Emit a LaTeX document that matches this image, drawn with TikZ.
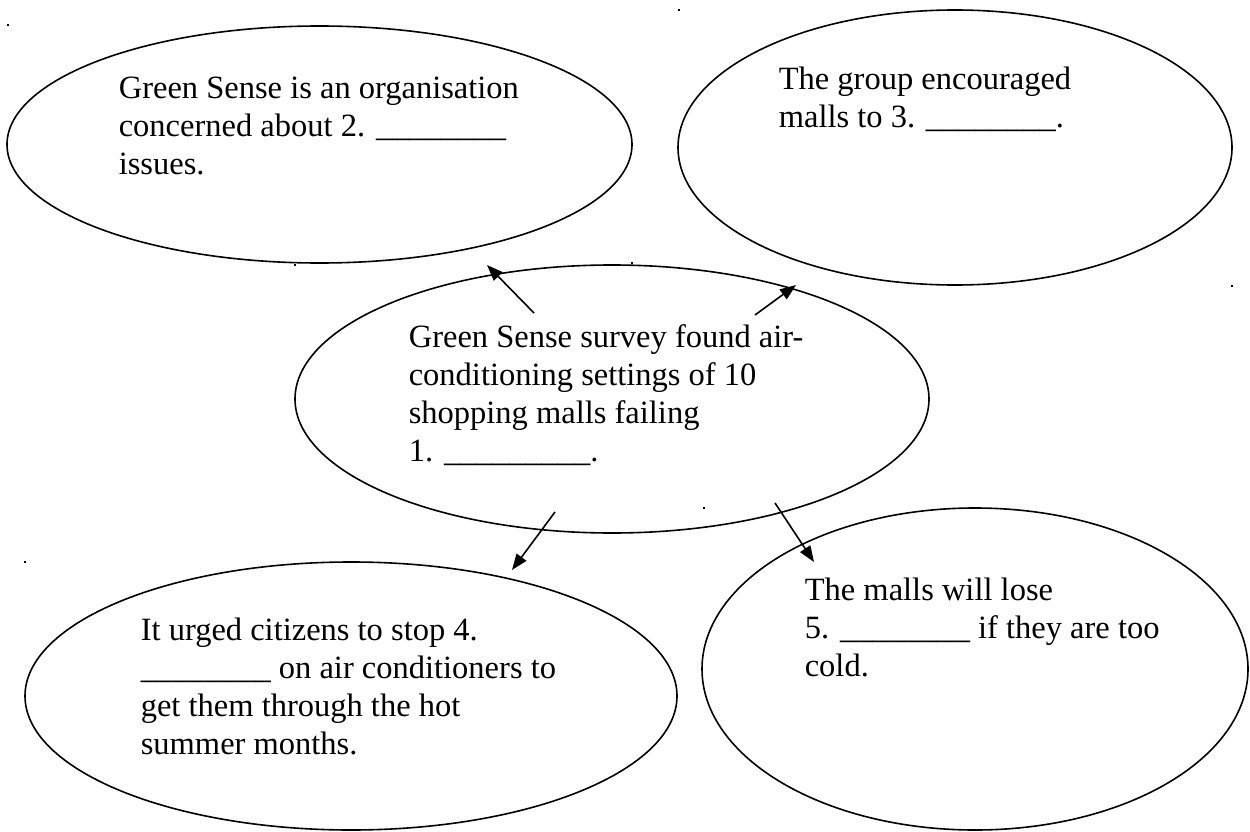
\documentclass[tikz,border=0pt]{standalone}
\usepackage{fontspec}
\setmainfont{Liberation Serif}
\usetikzlibrary{shapes.geometric,arrows.meta}
\begin{document}
\begin{tikzpicture}
  [x=1pt,y=-1pt,line width=1.6pt,
   bubble/.style={ellipse,draw,inner sep=0pt,outer sep=0pt},
   words/.style={anchor=base west,align=left,inner sep=0pt,font=\fontsize{32.5}{38}\selectfont},
   pointer/.style={draw,-{Triangle[length=16pt,width=12pt]}}]
  \useasboundingbox (0,0) rectangle (1250,832);

  \node[bubble,minimum width=625pt,minimum height=237pt] (b1) at (319.5,144.5) {};
  \node[bubble,minimum width=554pt,minimum height=275pt] (b2) at (955,147.5) {};
  \node[bubble,minimum width=634pt,minimum height=268pt] (b3) at (612,399) {};
  \node[bubble,minimum width=652pt,minimum height=268pt] (b4) at (351,696) {};
  \node[bubble,minimum width=546pt,minimum height=322pt] (b5) at (975,669) {};

  % texts sit on the baseline of their last line
  \node[words] (t1) at (118,174) {Green Sense is an organisation\\concerned about 2. \_\_\_\_\_\_\_\_\\issues.};
  \node[words] (t2) at (778,128) {The group encouraged\\malls to 3. \_\_\_\_\_\_\_\_.};
  \node[words] (t3) at (408,461) {Green Sense survey found air-\\conditioning settings of 10\\shopping malls failing\\1. \_\_\_\_\_\_\_\_\_.};
  \node[words] (t4) at (140,754) {It urged citizens to stop 4.\\\_\_\_\_\_\_\_\_ on air conditioners to\\get them through the hot\\summer months.};
  \node[words] (t5) at (804,676) {The malls will lose\\5. \_\_\_\_\_\_\_\_ if they are too\\cold.};

  \coordinate (s1) at (534,313);
  \coordinate (h1) at (487,265);
  \coordinate (s2) at (755,315);
  \coordinate (h2) at (796,285);
  \coordinate (s3) at (555,512);
  \coordinate (h3) at (512,570);
  \coordinate (s4) at (775,503);
  \coordinate (h4) at (814,562);

\path
    (s1) edge [pointer] (h1)
    (s2) edge [pointer] (h2)
    (s3) edge [pointer] (h3)
    (s4) edge [pointer] (h4)
    ;

  % stray specks
  \foreach \x/\y in {8/25,679/10,295/265,632/263,1232/286,704/508,25/562}
    \fill (\x-1.3,\y-1.3) rectangle ++(2.6,2.6);
\end{tikzpicture}
\end{document}
